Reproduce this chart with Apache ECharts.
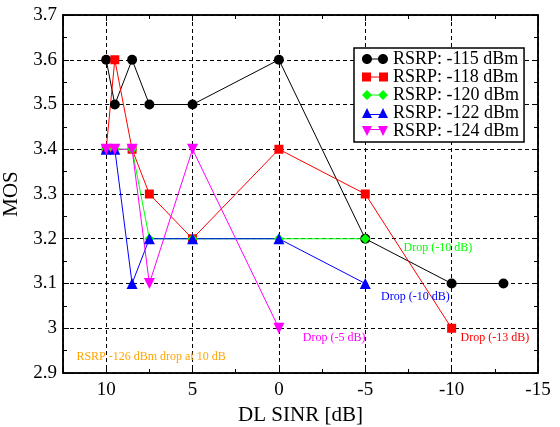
<!DOCTYPE html>
<html>
<head>
<meta charset="utf-8">
<script src="https://cdn.jsdelivr.net/npm/echarts@6/dist/echarts.min.js"></script>
<style>
  html, body { margin: 0; padding: 0; background: #fff; }
  #chart { width: 560px; height: 427px; }
</style>
</head>
<body>
<div id="chart"></div>
<script>
// data
var sinr115 = [10, 9.5, 8.5, 7.5, 5, 0, -5, -10, -13];
var mos115 = [3.6, 3.5, 3.6, 3.5, 3.5, 3.6, 3.2, 3.1, 3.1];
var sinr118 = [10, 9.5, 8.5, 7.5, 5, 0, -5, -10];
var mos118 = [3.4, 3.6, 3.4, 3.3, 3.2, 3.4, 3.3, 3.0];
var sinr120 = [10, 9.5, 8.5, 7.5, 5, 0, -5];
var mos120 = [3.4, 3.4, 3.4, 3.2, 3.2, 3.2, 3.2];
var sinr122 = [10, 9.5, 8.5, 7.5, 5, 0, -5];
var mos122 = [3.4, 3.4, 3.1, 3.2, 3.2, 3.2, 3.1];
var sinr124 = [10, 9.5, 8.5, 7.5, 5, 0];
var mos124 = [3.4, 3.4, 3.4, 3.1, 3.4, 3.0];
var names = ['RSRP: -115 dBm', 'RSRP: -118 dBm', 'RSRP: -120 dBm', 'RSRP: -122 dBm', 'RSRP: -124 dBm'];
// annotation texts, placed in data units
var noteTexts = ['RSRP -126 dBm drop at 10 dB', 'Drop (-13 dB)', 'Drop (-10 dB)', 'Drop (-10 dB)', 'Drop (-5 dB)'];
var noteSinr = [7.4, -12.5, -9.2, -7.9, -3.2];
var noteMos = [2.935, 2.978, 3.179, 3.07, 2.978];

var font = 'Liberation Serif';
var colors = ['#000000', '#ff0000', '#00ff00', '#0000ff', '#ff00ff'];
var symbols = ['circle', 'rect', 'diamond', 'triangle', 'path://M0,0L10,0L5,10Z'];
var symSizes = [10, 9, 10, 11, 11];
// legend icons: marker - line - marker
var circ = function (cx) {
  var l = cx - 5, r = cx + 5;
  return 'M' + l + ',5C' + l + ',2.24 ' + (cx - 2.76) + ',0 ' + cx + ',0C' + (cx + 2.76) + ',0 ' + r + ',2.24 ' + r + ',5' +
    'C' + r + ',7.76 ' + (cx + 2.76) + ',10 ' + cx + ',10C' + (cx - 2.76) + ',10 ' + l + ',7.76 ' + l + ',5Z';
};
var icons = [
  'path://' + circ(5) + circ(21) + 'M5,4.5L21,4.5L21,5.5L5,5.5Z',
  'path://M0,0L9,0L9,9L0,9ZM17,0L26,0L26,9L17,9ZM5,4L21,4L21,5L5,5Z',
  'path://M0,5L5,0L10,5L5,10ZM16,5L21,0L26,5L21,10ZM5,4.5L21,4.5L21,5.5L5,5.5Z',
  'path://M0,10L5,0L10,10ZM16,10L21,0L26,10ZM5,6L21,6L21,7L5,7Z',
  'path://M0,0L10,0L5,10ZM16,0L26,0L21,10ZM5,3L21,3L21,4L5,4Z'
];
var allX = [sinr115, sinr118, sinr120, sinr122, sinr124];
var allY = [mos115, mos118, mos120, mos122, mos124];

function pairs(xs, ys) {
  return xs.map(function (x, i) { return [x, ys[i]]; });
}
function note(i, color) {
  return {
    coord: [noteSinr[i], noteMos[i]],
    symbolSize: 0,
    label: { show: true, position: 'inside', formatter: noteTexts[i], color: color, fontFamily: font, fontSize: 12 }
  };
}
var notesBySeries = [
  [note(0, '#ffa500')],
  [note(1, '#ff0000')],
  [note(2, '#00ff00')],
  [note(3, '#0000ff')],
  [note(4, '#ff00ff')]
];

var series = names.map(function (n, k) {
  return {
    name: n,
    type: 'line',
    data: pairs(allX[k], allY[k]),
    symbol: symbols[k],
    symbolSize: symSizes[k],
    showAllSymbol: true,
    color: colors[k],
    lineStyle: { width: 1, color: colors[k] },
    itemStyle: { color: colors[k] },
    emphasis: { disabled: true },
    animation: false,
    markPoint: { symbol: 'circle', symbolSize: 0, data: notesBySeries[k], animation: false }
  };
});

var tickStyle = { show: true, inside: true, length: 6, lineStyle: { color: '#000', width: 1 } };
var minorStyle = { show: true, splitNumber: 2, length: 4, lineStyle: { color: '#000', width: 1 } };
var hideMax = function (v) { return v === 12.5 ? '' : String(v); };
var edge = { show: true, onZero: false, lineStyle: { color: '#000', width: 1.5 } };

var chart = echarts.init(document.getElementById('chart'));
chart.setOption({
  backgroundColor: '#fff',
  animation: false,
  grid: { left: 63, top: 15, right: 22, bottom: 54, outerBoundsMode: 'none', show: true, borderColor: '#000', borderWidth: 1.5, backgroundColor: 'transparent' },
  legend: {
    orient: 'vertical',
    left: 354, top: 48,
    data: names.map(function (n, k) { return { name: n, icon: icons[k] }; }),
    itemWidth: 26, itemHeight: 10, itemGap: 0,
    padding: [2, 5, 2, 8],
    borderColor: '#000', borderWidth: 1.5, backgroundColor: '#fff',
    textStyle: { fontFamily: font, fontSize: 18, color: '#000', lineHeight: 16 },
    selectedMode: false
  },
  xAxis: [{
    type: 'value', inverse: true, min: -15, max: 12.5, interval: 5,
    name: 'DL SINR [dB]', nameLocation: 'middle', nameGap: 32,
    nameTextStyle: { fontFamily: font, fontSize: 21, color: '#000' },
    axisLine: edge,
    axisTick: tickStyle, minorTick: minorStyle,
    axisLabel: { fontFamily: font, fontSize: 19, color: '#000', margin: 8, formatter: hideMax },
    splitLine: { show: true, lineStyle: { type: [4, 3], color: '#000', width: 1 } }
  }, {
    type: 'value', inverse: true, min: -15, max: 12.5, interval: 5, position: 'top',
    axisLine: edge,
    axisTick: tickStyle, minorTick: minorStyle,
    axisLabel: { show: false }, splitLine: { show: false }
  }],
  yAxis: [{
    type: 'value', min: 2.9, max: 3.7, interval: 0.1,
    name: 'MOS', nameLocation: 'middle', nameGap: 34,
    nameTextStyle: { fontFamily: font, fontSize: 21, color: '#000' },
    axisLine: edge,
    axisTick: tickStyle, minorTick: minorStyle,
    axisLabel: { fontFamily: font, fontSize: 19, color: '#000', margin: 6 },
    splitLine: { show: true, lineStyle: { type: [4, 3], color: '#000', width: 1 } }
  }, {
    type: 'value', min: 2.9, max: 3.7, interval: 0.1, position: 'right',
    axisLine: edge,
    axisTick: tickStyle, minorTick: minorStyle,
    axisLabel: { show: false }, splitLine: { show: false }
  }],
  series: series
});
</script>
</body>
</html>
